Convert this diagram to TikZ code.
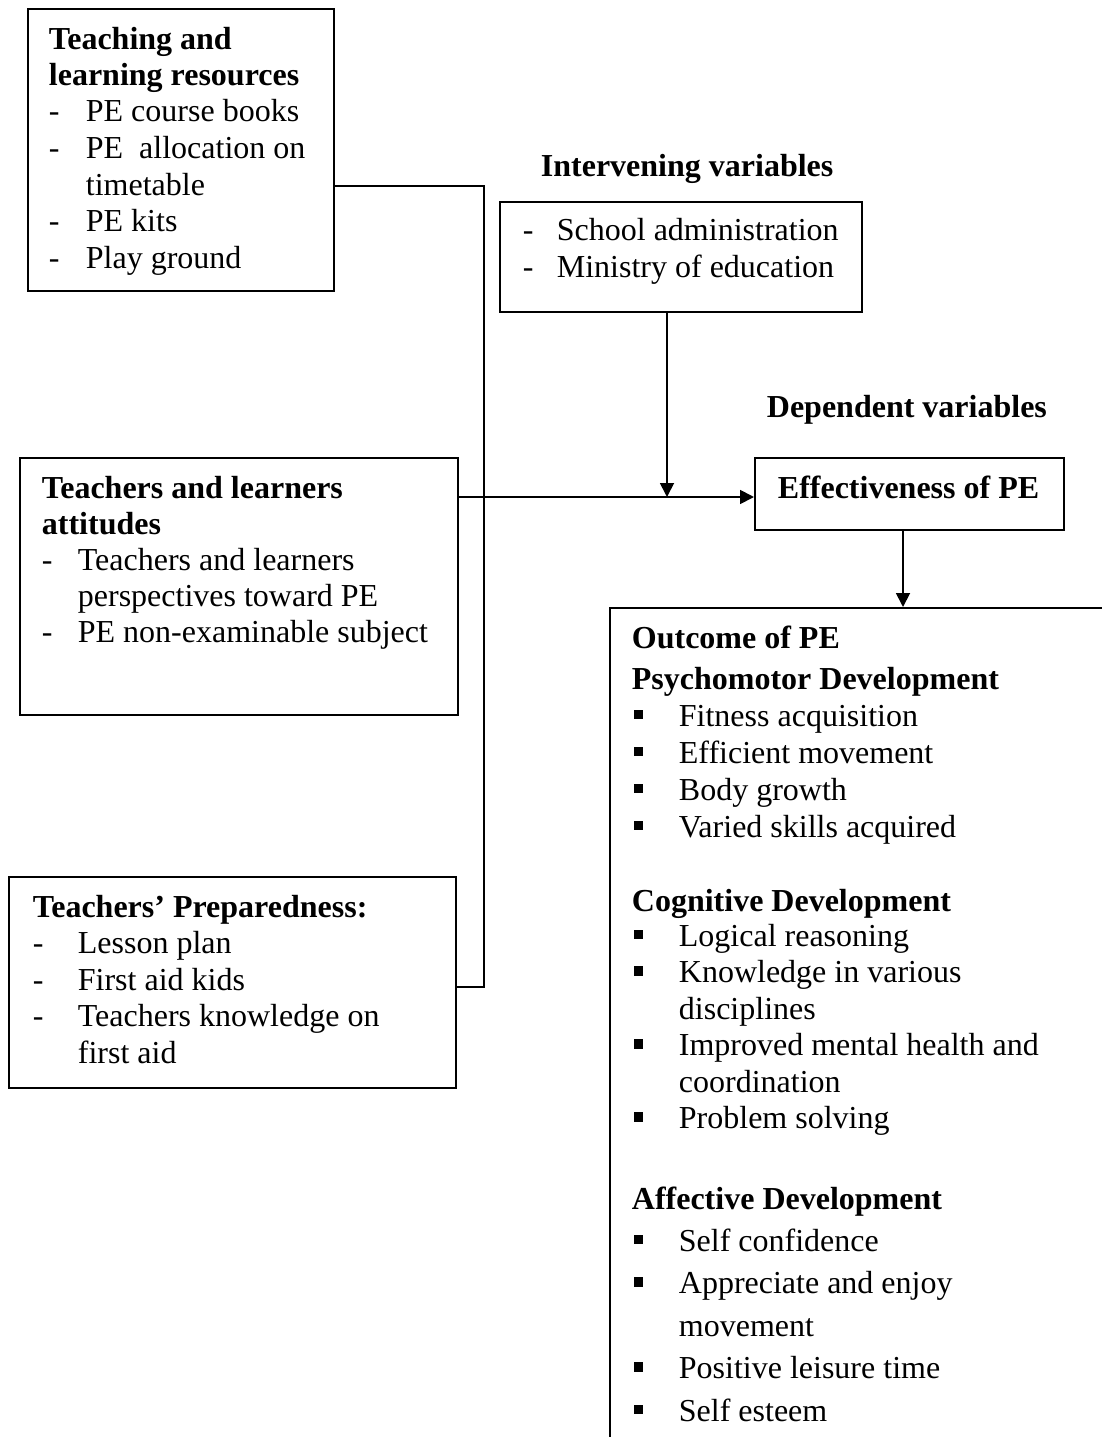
\documentclass[tikz,border=0pt]{standalone}
\usepackage{fontspec}
\setmainfont{Liberation Serif}
\usetikzlibrary{arrows.meta}
\newcommand{\dashitem}[2]{\makebox[#1][l]{-}#2}
\newcommand{\contline}[2]{\hspace*{#1}#2}
\newcommand{\sqitem}{\makebox[47pt][l]{\hspace*{2pt}\raisebox{7pt}{\rule{9.5pt}{9.5pt}}}}
\newcommand{\tb}[3]{\parbox[t]{#1}{\fontsize{32pt}{#2}\selectfont\raggedright #3}}
\begin{document}
\begin{tikzpicture}[x=1pt,y=-1pt,line width=1.8pt,
  box/.style={draw,inner sep=0pt,anchor=north west},
  txt/.style={inner sep=0pt,anchor=base west},
  arr/.style={-{Triangle[length=14pt,width=14pt]}}]
\useasboundingbox (0,0) rectangle (1102,1437);
\clip (0,0) rectangle (1102,1437);
% boxes
\node[box,minimum width=306pt,minimum height=282pt] (tlr) at (27,8) {};
\node[box,minimum width=438pt,minimum height=257pt] (att) at (19,457) {};
\node[box,minimum width=447pt,minimum height=211pt] (tp) at (8,876) {};
\node[box,minimum width=362pt,minimum height=110pt] (inter) at (499,201) {};
\node[box,minimum width=309pt,minimum height=72pt] (eff) at (754,457) {};
\node[box,minimum width=700pt,minimum height=1000pt] (out) at (609,607) {};
% texts
\node[txt] (tlrt) at (48,49) {\tb{400pt}{36.5pt}{\textbf{Teaching and}\\\textbf{learning resources}\\\dashitem{37pt}{PE course books}\\\dashitem{37pt}{PE\ \ allocation on}\\\contline{37pt}{timetable}\\\dashitem{37pt}{PE kits}\\\dashitem{37pt}{Play ground}}};
\node[txt] (attt) at (41,498) {\tb{450pt}{36.2pt}{\textbf{Teachers and learners}\\\textbf{attitudes}\\\dashitem{36pt}{Teachers and learners}\\\contline{36pt}{perspectives toward PE}\\\dashitem{36pt}{PE non-examinable subject}}};
\node[txt] (tpt) at (32,917) {\tb{450pt}{36.5pt}{\textbf{Teachers’ Preparedness:}\\\dashitem{45pt}{Lesson plan}\\\dashitem{45pt}{First aid kids}\\\dashitem{45pt}{Teachers knowledge on}\\\contline{45pt}{first aid}}};
\node[txt] (intlab) at (540,176) {\fontsize{32pt}{37pt}\selectfont\textbf{Intervening variables}};
\node[txt] (intert) at (522,240) {\tb{400pt}{37.5pt}{\dashitem{34pt}{School administration}\\\dashitem{34pt}{Ministry of education}}};
\node[txt] (deplab) at (766,417) {\fontsize{32pt}{37pt}\selectfont\textbf{Dependent variables}};
\node[txt] (efft) at (777,498) {\fontsize{32pt}{37pt}\selectfont\textbf{Effectiveness of PE}};
\node[txt] (oc1) at (631,648) {\tb{460pt}{37pt}{\textbf{Outcome of PE}\\[4pt]\textbf{Psychomotor Development}\\\sqitem Fitness acquisition\\\sqitem Efficient movement\\\sqitem Body growth\\\sqitem Varied skills acquired}};
\node[txt] (oc2) at (631,911) {\tb{460pt}{36.5pt}{\textbf{Cognitive Development}\\[-1.5pt]\sqitem Logical reasoning\\\sqitem Knowledge in various\\\contline{47pt}{disciplines}\\\sqitem Improved mental health and\\\contline{47pt}{coordination}\\\sqitem Problem solving}};
\node[txt] (oc3) at (631,1209) {\tb{460pt}{42.4pt}{\textbf{Affective Development}\\\sqitem Self confidence\\\sqitem Appreciate and enjoy\\\contline{47pt}{movement}\\\sqitem Positive leisure time\\\sqitem Self esteem}};
% connectors
\coordinate (bt) at (484,186);
\coordinate (bb) at (484,987);
\coordinate (ja) at (667,497);
\coordinate (jb) at (903,560);
\draw (tlr.east |- bt) -- (bt) -- (bb) -- (tp.east |- bb);
\draw[arr] (att.east |- ja) -- (ja -| eff.west);
\draw[arr] (ja |- inter.south) -- (ja);
\draw[arr] (jb |- eff.south) -- (jb |- out.north);
\end{tikzpicture}
\end{document}
